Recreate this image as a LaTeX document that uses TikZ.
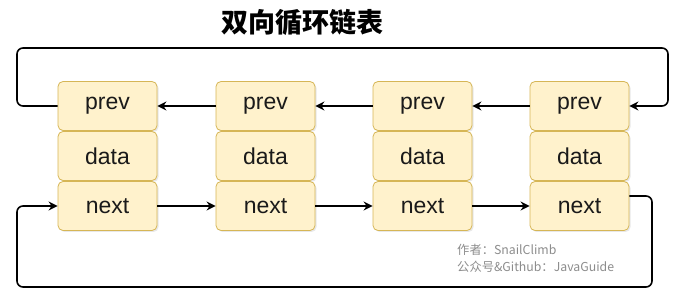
\documentclass[tikz,border=0pt]{standalone}
\usepackage{fontspec}
\setmainfont{Liberation Sans}
\newfontfamily\cjk{Noto Sans CJK SC}
\usetikzlibrary{arrows.meta,positioning,shadows}
\definecolor{cellfill}{HTML}{FFF2CC}
\definecolor{cellline}{HTML}{D6B656}
\definecolor{txt}{HTML}{1A1A1A}
\definecolor{note}{HTML}{8C8C8C}
\begin{document}
\begin{tikzpicture}[x=1pt, y=-1pt, >={Stealth[length=9pt,width=9pt,inset=3pt]},
    cell/.style={draw=cellline, fill=cellfill, rounded corners=5pt, line width=0.8pt,
                 minimum width=99pt, minimum height=49pt, inner sep=0pt,
                 text=txt, font=\fontsize{23}{26}\selectfont,
                 drop shadow={opacity=0.18, shadow xshift=1.5pt, shadow yshift=-1.5pt}},
    link/.style={->, line width=1.6pt, draw=black}]
  \useasboundingbox (0,0) rectangle (681,304);
  %% Title
  \node[font=\cjk\bfseries\fontsize{27}{30}\selectfont] (title) at (302,22) {双向循环链表};
  %% Nodes
  \foreach \i/\x in {1/107.5, 2/265.5, 3/422.5, 4/579.5}{
    \node[cell] (p\i) at (\x,106) {prev};
    \node[cell] (d\i) at (\x,156) {data};
    \node[cell] (n\i) at (\x,206) {next};
  }
  %% Links between nodes
  \foreach \a/\b in {1/2,2/3,3/4}{
    \draw[link] (p\b.west) -- (p\a.east);
    \draw[link] (n\a.east) -- (n\b.west);
  }
  %% Wrap-around links
  \coordinate (tl) at (17,48);
  \coordinate (tr) at (668,48);
  \coordinate (bl) at (17,287);
  \coordinate (br) at (652,287);
  \draw[link, rounded corners=6pt] (p1.west) -| (tl) -- (tr) |- (p4.east);
  \draw[link, rounded corners=6pt] ([yshift=10pt]n4.east) -| (br) -- (bl) |- (n1.west);
  %% Note
  \node[anchor=west, text=note, font=\cjk\fontsize{12.3}{14}\selectfont, inner sep=0pt] (au) at (457,250) {作者：SnailClimb};
  \node[anchor=west, text=note, font=\cjk\fontsize{12.3}{14}\selectfont, inner sep=0pt] (gh) at (457,267) {公众号\&Github：JavaGuide};
\end{tikzpicture}
\end{document}
